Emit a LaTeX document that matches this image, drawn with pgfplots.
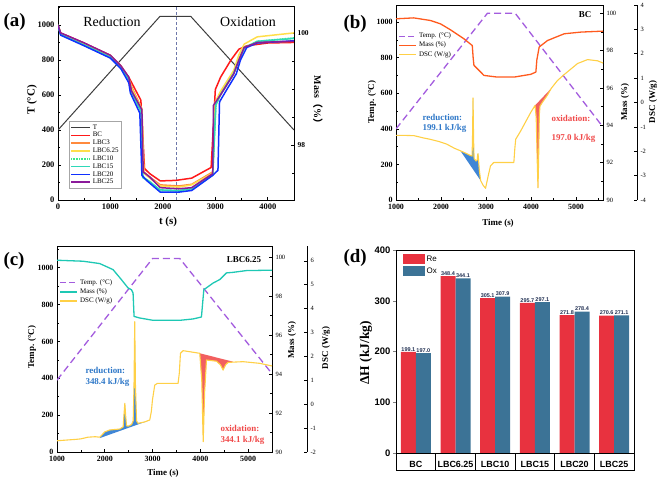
\documentclass[border=0pt]{standalone}
\usepackage{fontspec}
\setmainfont{Liberation Serif}
\newfontfamily\sansf{Liberation Sans}
\newfontfamily\cjk{Noto Sans CJK SC}
\usepackage{pgfplots}
\pgfplotsset{compat=1.18}
\newcommand\fs[1]{\fontsize{#1}{#1}\selectfont}

\definecolor{cT}{RGB}{60,60,60}
\definecolor{cBC}{RGB}{255,25,25}
\definecolor{cLa}{RGB}{255,138,61}
\definecolor{cLb}{RGB}{255,222,74}
\definecolor{cLc}{RGB}{60,232,138}
\definecolor{cLd}{RGB}{46,216,184}
\definecolor{cLe}{RGB}{16,48,255}
\definecolor{cLf}{RGB}{139,26,154}
\definecolor{tempc}{RGB}{163,92,222}
\definecolor{massb}{RGB}{255,90,30}
\definecolor{massc}{RGB}{30,200,180}
\definecolor{dscc}{RGB}{255,208,70}
\definecolor{bluef}{RGB}{63,134,214}
\definecolor{redf}{RGB}{242,95,95}
\definecolor{bluet}{RGB}{47,120,200}
\definecolor{redt}{RGB}{240,74,74}
\definecolor{reC}{RGB}{232,50,63}
\definecolor{oxC}{RGB}{60,115,150}
\definecolor{valC}{RGB}{30,45,80}
\definecolor{vline}{RGB}{110,120,170}

\pgfplotsset{
  mybase/.style={scale only axis, anchor=south west,
    /pgf/number format/assume math mode=true,
    /pgf/number format/1000 sep={},
    tick align=inside, major tick length=3bp, minor tick length=1.8bp,
    axis line style={line width=0.7bp},
    every tick/.style={black,line width=0.6bp},
    tick label style={font=\bfseries\fs{8}}},
  lineleg/.style={legend image code/.code={\draw[##1] (0bp,0bp) -- (17bp,0bp);}},
  barleg/.style={legend image code/.code={\fill[##1] (0bp,-5bp) rectangle (22bp,5bp);}},
}

\begin{document}
\begin{tikzpicture}
\useasboundingbox (0,0) rectangle (661bp,482bp);

% ================= (a) =================
\begin{axis}[mybase, at={(58bp,282bp)}, width=236bp, height=194bp,
  xmin=0, xmax=4500, ymin=0, ymax=1109,
  xtick={0,1000,2000,3000,4000}, minor xtick={500,1500,2500,3500,4500},
  ytick={0,200,...,1000}, minor ytick={100,300,...,1100},
  xtick pos=bottom, ytick pos=left,
  tick label style={font=\bfseries\fs{8.5}}]
\addplot[cT, line width=1bp] coordinates {(0,400)(1945,1050)(2530,1050)(4500,400)};
\addplot[vline, line width=0.8bp, dash pattern=on 3bp off 2bp] coordinates {(2250,0)(2250,1109)};
\end{axis}
\begin{axis}[mybase, at={(58bp,282bp)}, width=236bp, height=194bp,
  xmin=0, xmax=4500, ymin=97.02, ymax=100.48,
  axis x line=none, axis y line*=right,
  ytick={98,100}, minor ytick={97.5,98.5,99,99.5},
  tick label style={font=\bfseries\fs{7.5}},
  legend image code/.code={\draw[#1, line width=1.5bp] (0bp,0bp) -- (19bp,0bp);},
  legend style={at={(0.047,0.405)}, anchor=north west, draw=gray!70,
    font=\fs{7}, row sep=-2.3bp, inner sep=1bp, cells={anchor=west}, fill=white}]
\addlegendimage{cT}\addlegendentry{T}
\addplot[cBC, line width=1.5bp, line join=round] coordinates {(0,100.14)(50,100.0)(500,99.82)(1000,99.6)(1200,99.41)(1350,99.21)(1580,98.8)(1650,97.58)(1750,97.49)(1950,97.36)(2250,97.37)(2550,97.41)(2920,97.6)(3000,98.99)(3100,99.21)(3300,99.52)(3450,99.71)(3600,99.77)(4000,99.82)(4500,99.83)};
\addlegendentry{BC}
\addplot[cLa, line width=1.5bp, line join=round] coordinates {(0,100.14)(50,99.99)(500,99.80)(1000,99.6)(1200,99.41)(1350,99.19)(1400,99.05)(1600,98.645)(1640,97.52)(1750,97.43)(1950,97.29)(2300,97.27)(2550,97.30)(2950,97.52)(3000,98.77)(3100,98.93)(3350,99.27)(3450,99.52)(3550,99.74)(3800,99.83)(4500,99.85)};
\addlegendentry{LBC3}
\addplot[cLb, line width=1.5bp, line join=round] coordinates {(0,100.14)(50,99.99)(500,99.80)(1000,99.59)(1200,99.40)(1350,99.18)(1400,99.02)(1600,98.63)(1635,97.50)(1750,97.41)(1950,97.27)(2300,97.25)(2550,97.29)(2950,97.50)(3000,98.77)(3100,98.96)(3350,99.33)(3450,99.61)(3550,99.80)(3800,99.93)(4500,100.0)};
\addlegendentry{LBC6.25}
\addplot[cLc, line width=1.6bp, line join=round, dash pattern=on 1bp off 0.6bp] coordinates {(0,100.14)(50,99.97)(500,99.785)(1000,99.57)(1200,99.38)(1350,99.18)(1400,98.96)(1590,98.58)(1620,97.43)(1750,97.35)(1950,97.19)(2300,97.18)(2550,97.21)(2950,97.46)(3010,98.71)(3100,98.895)(3350,99.27)(3450,99.52)(3550,99.74)(3800,99.85)(4500,99.91)};
\addlegendentry{LBC10}
\addplot[cLd, line width=1.5bp, line join=round] coordinates {(0,100.14)(50,99.97)(500,99.78)(1000,99.56)(1200,99.37)(1350,99.16)(1400,98.95)(1585,98.6)(1615,97.42)(1750,97.34)(1950,97.2)(2300,97.19)(2550,97.22)(2950,97.47)(3010,98.72)(3100,98.9)(3350,99.28)(3450,99.5)(3550,99.72)(3800,99.85)(4500,99.9)};
\addlegendentry{LBC15}
\addplot[cLe, line width=1.5bp, line join=round] coordinates {(0,100.14)(50,99.96)(500,99.77)(1000,99.55)(1200,99.36)(1350,99.11)(1380,98.93)(1560,98.57)(1600,97.46)(1700,97.36)(1950,97.16)(2300,97.16)(2550,97.19)(2950,97.46)(3050,97.55)(3080,98.77)(3200,98.96)(3400,99.27)(3480,99.52)(3600,99.74)(3800,99.82)(4500,99.86)};
\addlegendentry{LBC20}
\addplot[cLf, line width=1.5bp, line join=round] coordinates {(0,100.14)(50,100.0)(500,99.82)(1000,99.6)(1200,99.41)(1350,99.21)(1400,98.97)(1600,98.63)(1625,97.52)(1750,97.43)(1950,97.24)(2300,97.22)(2550,97.24)(2950,97.49)(2965,98.71)(3100,98.895)(3350,99.27)(3450,99.52)(3550,99.74)(3800,99.83)(4500,99.85)};
\addlegendentry{LBC25}
\end{axis}

% ================= (b) =================
\begin{axis}[mybase, at={(396bp,282bp)}, width=207bp, height=195bp,
  xmin=1000, xmax=5600, ymin=0, ymax=1097,
  xtick={1000,2000,...,5000}, minor xtick={1500,2500,...,5500},
  ytick={0,200,...,1000}, minor ytick={100,300,...,1100},
  xtick pos=bottom, ytick pos=left,
  xticklabel style={yshift=-1bp}]
\addplot[tempc, line width=1.3bp, dash pattern=on 7bp off 4bp] coordinates {(1000,400)(3030,1050)(3650,1050)(5600,410)};
\end{axis}
\begin{axis}[mybase, at={(396bp,282bp)}, width=207bp, height=195bp,
  xmin=1000, xmax=5600, ymin=90, ymax=100.44,
  axis x line=none, axis y line*=right,
  ytick={90,92,...,100}, minor ytick={91,93,...,99},
  tick label style={font=\fs{6.5}}]
\addplot[massb, line width=1.3bp, line join=round] coordinates {(1000,99.70)(1394,99.75)(1766,99.61)(1989,99.43)(2212,99.11)(2509,98.63)(2695,98.27)(2715,97.6)(2732,97.21)(2807,97.03)(2955,96.67)(3253,96.58)(3625,96.58)(3996,96.73)(4108,96.85)(4130,97.5)(4182,98.19)(4368,98.54)(4740,98.90)(5112,98.99)(5600,99.04)};
\end{axis}
\begin{axis}[mybase, at={(396bp,282bp)}, width=207bp, height=195bp,
  xmin=1000, xmax=5600, ymin=-4, ymax=4, hide axis, lineleg,
  legend style={at={(0.01,0.87)}, anchor=north west, draw=none, fill=none,
    font=\fs{7}, row sep=-1.2bp, inner sep=0.5bp, cells={anchor=west}}]
\addlegendimage{tempc, line width=1.3bp, dash pattern=on 6bp off 3bp}\addlegendentry{Temp. (°C)}
\addlegendimage{massb, line width=1.3bp}\addlegendentry{Mass (\%)}
\addplot[fill=bluef, draw=none, forget plot] coordinates {(2430,-1.98)(2550,-2.08)(2650,-2.17)(2690,-2.2)(2700,-1.5)(2712,0.19)(2724,-1.5)(2735,-2.3)(2780,-2.4)(2805,-2.35)(2815,-2.15)(2823,-2.1)(2832,-2.3)(2850,-2.75)(2880,-3.2)} -- cycle;
\addplot[fill=redf, draw=none, forget plot] coordinates {(4090,-0.12)(4115,-0.6)(4140,-2.5)(4155,-3.5)(4168,-2.5)(4185,-0.5)(4200,-0.15)(4250,0.0)(4364,0.3)(4450,0.58)} -- cycle;
\addplot[dscc, line width=1.1bp, line join=round] coordinates {(1000,-1.35)(1200,-1.35)(1400,-1.36)(1600,-1.45)(1760,-1.51)(1950,-1.6)(2130,-1.71)(2300,-1.88)(2430,-1.98)(2550,-2.08)(2650,-2.17)(2690,-2.2)(2700,-1.5)(2712,0.19)(2724,-1.5)(2735,-2.3)(2780,-2.4)(2805,-2.35)(2815,-2.15)(2823,-2.1)(2832,-2.3)(2850,-2.75)(2880,-3.2)(2930,-3.38)(2990,-3.52)(3050,-3.0)(3100,-2.6)(3172,-2.46)(3619,-2.46)(3640,-1.9)(3660,-1.51)(3770,-1.17)(3990,-0.42)(4090,-0.12)(4115,-0.6)(4140,-2.5)(4155,-3.5)(4168,-2.5)(4185,-0.5)(4200,-0.15)(4250,0.0)(4364,0.3)(4450,0.58)(4587,0.9)(4740,1.15)(5035,1.6)(5257,1.76)(5480,1.71)(5600,1.62)};
\addlegendentry{DSC (W/g)}
\end{axis}
\begin{axis}[mybase, at={(396bp,282bp)}, width=241bp, height=195bp,
  xmin=0, xmax=1, ymin=-4, ymax=4,
  axis x line=none, axis y line*=right,
  ytick={-4,-3,...,4}, tick label style={font=\fs{6.5}}]
\addplot[draw=none] coordinates {(0,0)};
\end{axis}

% ================= (c) =================
\begin{axis}[mybase, at={(57bp,30bp)}, width=215bp, height=206bp,
  xmin=1000, xmax=5500, ymin=0, ymax=1118,
  xtick={1000,2000,...,5000}, minor xtick={1500,2500,...,5500},
  ytick={0,200,...,1000}, minor ytick={100,300,...,1100},
  xtick pos=bottom, ytick pos=left,
  xticklabel style={yshift=-1bp}]
\addplot[tempc, line width=1.3bp, dash pattern=on 7bp off 4bp] coordinates {(1000,390)(3000,1050)(3570,1050)(5500,425)};
\end{axis}
\begin{axis}[mybase, at={(57bp,30bp)}, width=215bp, height=206bp,
  xmin=1000, xmax=5500, ymin=90, ymax=100.56,
  axis x line=none, axis y line*=right,
  ytick={90,92,...,100}, minor ytick={91,93,...,99},
  tick label style={font=\fs{6.5}}]
\addplot[massc, line width=1.3bp, line join=round] coordinates {(1000,99.83)(1545,99.78)(1894,99.66)(2173,99.35)(2347,98.84)(2487,98.41)(2557,98.32)(2592,98.15)(2613,96.95)(2731,96.87)(3011,96.75)(3569,96.75)(3848,96.82)(4023,96.92)(4073,98.32)(4267,98.66)(4407,98.84)(4546,99.18)(4686,99.21)(4965,99.30)(5500,99.32)};
\end{axis}
\begin{axis}[mybase, at={(57bp,30bp)}, width=215bp, height=206bp,
  xmin=1000, xmax=5500, ymin=-2, ymax=6.62, hide axis, lineleg,
  legend style={at={(0.01,0.85)}, anchor=north west, draw=none, fill=none,
    font=\fs{7}, row sep=-1.2bp, inner sep=0.5bp, cells={anchor=west}}]
\addlegendimage{tempc, line width=1.3bp, dash pattern=on 6bp off 3bp}\addlegendentry{Temp. (°C)}
\addlegendimage{massc, line width=1.3bp}\addlegendentry{Mass (\%)}
\addplot[fill=bluef, draw=none, forget plot] coordinates {(1894,-1.42)(2000,-1.16)(2102,-1.08)(2200,-1.06)(2312,-1.04)(2385,-0.95)(2400,-0.5)(2420,0.04)(2438,-0.5)(2455,-0.9)(2489,-0.92)(2560,-0.85)(2595,-0.7)(2612,0.8)(2627,3.45)(2642,0.8)(2665,-0.7)(2697,-0.8)(2837,-0.74)(2900,-0.7)} -- cycle;
\addplot[fill=redf, draw=none, forget plot] coordinates {(3988,2.13)(4030,1.0)(4060,-1.57)(4090,0.5)(4129,1.85)(4338,1.8)(4420,1.65)(4477,1.43)(4530,1.65)(4582,1.75)(4686,1.78)} -- cycle;
\addplot[dscc, line width=1.1bp, line join=round] coordinates {(1000,-1.53)(1200,-1.5)(1406,-1.47)(1500,-1.45)(1650,-1.38)(1800,-1.36)(1894,-1.38)(2000,-1.16)(2102,-1.08)(2200,-1.06)(2312,-1.04)(2385,-0.95)(2400,-0.5)(2420,0.04)(2438,-0.5)(2455,-0.9)(2489,-0.92)(2560,-0.85)(2595,-0.7)(2612,0.8)(2627,3.45)(2642,0.8)(2665,-0.7)(2697,-0.8)(2837,-0.74)(2941,-0.66)(2975,-0.3)(2998,0.18)(3046,0.8)(3100,0.87)(3534,0.87)(3560,1.3)(3584,2.13)(3639,2.24)(3988,2.13)(4030,1.0)(4060,-1.57)(4090,0.5)(4129,1.85)(4338,1.8)(4420,1.65)(4477,1.43)(4530,1.65)(4582,1.75)(4896,1.78)(5245,1.71)(5500,1.6)};
\addlegendentry{DSC (W/g)}
\end{axis}
\begin{axis}[mybase, at={(57bp,30bp)}, width=250bp, height=206bp,
  xmin=0, xmax=1, ymin=-2, ymax=6.62,
  axis x line=none, axis y line*=right,
  ytick={-2,-1,...,6}, tick label style={font=\fs{6.5}}]
\addplot[draw=none] coordinates {(0,0)};
\end{axis}

% ================= (d) =================
\begin{axis}[scale only axis, anchor=south west, at={(396bp,29bp)}, width=238bp, height=203bp,
  /pgf/number format/assume math mode=true,
  axis line style={line width=0.8bp},
  xmin=-0.5, xmax=5.5, ymin=0, ymax=400,
  ybar=0pt, bar width=15bp,
  xtick={0,...,5}, xticklabels={BC,LBC6.25,LBC10,LBC15,LBC20,LBC25},
  x tick style={draw=none}, major tick length=3bp,
  ytick={0,100,...,400}, ytick pos=left, tick align=outside,
  yticklabel style={font=\sansf\bfseries\fs{9.5}, xshift=1bp},
  xticklabel style={font=\sansf\bfseries\fs{9}, yshift=-1.5bp},
  nodes near coords={\pgfmathprintnumber[fixed,fixed zerofill,precision=1]{\pgfplotspointmeta}},
  every node near coord/.append style={font=\sansf\bfseries\fs{5.5}, valC, inner sep=0.6bp},
  legend style={at={(0.025,0.985)}, anchor=north west, draw=none, fill=none,
    font=\sansf\fs{8}, row sep=1bp, inner sep=0.5bp, cells={anchor=west}}]
\addplot[fill=reC, draw=none, barleg] coordinates {(0,199.1)(1,348.4)(2,305.1)(3,295.7)(4,271.8)(5,270.6)};
\addlegendentry{Re}
\addplot[fill=oxC, draw=none, barleg] coordinates {(0,197.0)(1,344.1)(2,307.9)(3,297.1)(4,278.4)(5,271.1)};
\addlegendentry{Ox}
\end{axis}
\draw[line width=0.8bp] (396bp,12bp) rectangle (634bp,29bp);
\foreach \i in {1,...,5} \draw[line width=0.8bp] ({396bp+39.667bp*\i},12bp) -- ({396bp+39.667bp*\i},29bp);

% ================= texts =================
\node[anchor=west, font=\bfseries\fs{19}] at (0bp,460bp) {(a)};
\node[anchor=west, font=\bfseries\fs{19}] at (340bp,458bp) {(b)};
\node[anchor=west, font=\bfseries\fs{19}] at (0bp,221bp) {(c)};
\node[anchor=west, font=\bfseries\fs{19}] at (340bp,224bp) {(d)};

\node[font=\fs{14}] at (112bp,460bp) {Reduction};
\node[font=\fs{14}] at (248bp,460bp) {Oxidation};
\node[rotate=90, font=\bfseries\fs{11}] at (32bp,382bp) {T (°C)};
\node[font=\bfseries\fs{11}] at (168bp,260bp) {t (s)};
\node[rotate=-90, font=\bfseries\fs{10}] at (318bp,380bp) {Mass{\cjk （}\%{\cjk ）}};

\node[font=\bfseries\fs{9}] at (585bp,467bp) {BC};
\node[rotate=90, font=\bfseries\fs{9}] at (372bp,380bp) {Temp. (°C)};
\node[font=\bfseries\fs{9}] at (498bp,259bp) {Time (s)};
\node[rotate=90, font=\bfseries\fs{9}] at (625bp,380bp) {Mass (\%)};
\node[rotate=90, font=\bfseries\fs{9}] at (653bp,380bp) {DSC (W/g)};
\node[anchor=west, font=\bfseries\fs{9}, text=bluet] at (419bp,365bp) {reduction:};
\node[anchor=west, font=\bfseries\fs{9}, text=bluet] at (419bp,354bp) {199.1 kJ/kg};
\node[anchor=west, font=\bfseries\fs{9}, text=redt] at (548bp,364bp) {oxidation:};
\node[anchor=west, font=\bfseries\fs{9}, text=redt] at (548bp,344bp) {197.0 kJ/kg};

\node[font=\bfseries\fs{9}] at (244bp,222bp) {LBC6.25};
\node[rotate=90, font=\bfseries\fs{9}] at (32bp,135bp) {Temp. (°C)};
\node[font=\bfseries\fs{9}] at (163bp,9bp) {Time (s)};
\node[rotate=90, font=\bfseries\fs{9}] at (292bp,142bp) {Mass (\%)};
\node[rotate=90, font=\bfseries\fs{9}] at (326bp,134bp) {DSC (W/g)};
\node[anchor=west, font=\bfseries\fs{9}, text=bluet] at (82bp,112bp) {reduction:};
\node[anchor=west, font=\bfseries\fs{9}, text=bluet] at (82bp,100bp) {348.4 kJ/kg};
\node[anchor=west, font=\bfseries\fs{9}, text=redt] at (217bp,54bp) {oxidation:};
\node[anchor=west, font=\bfseries\fs{9}, text=redt] at (217bp,42bp) {344.1 kJ/kg};

\node[rotate=90, font=\bfseries\fs{13.5}] at (366bp,129bp) {ΔH (kJ/kg)};
\end{tikzpicture}
\end{document}
